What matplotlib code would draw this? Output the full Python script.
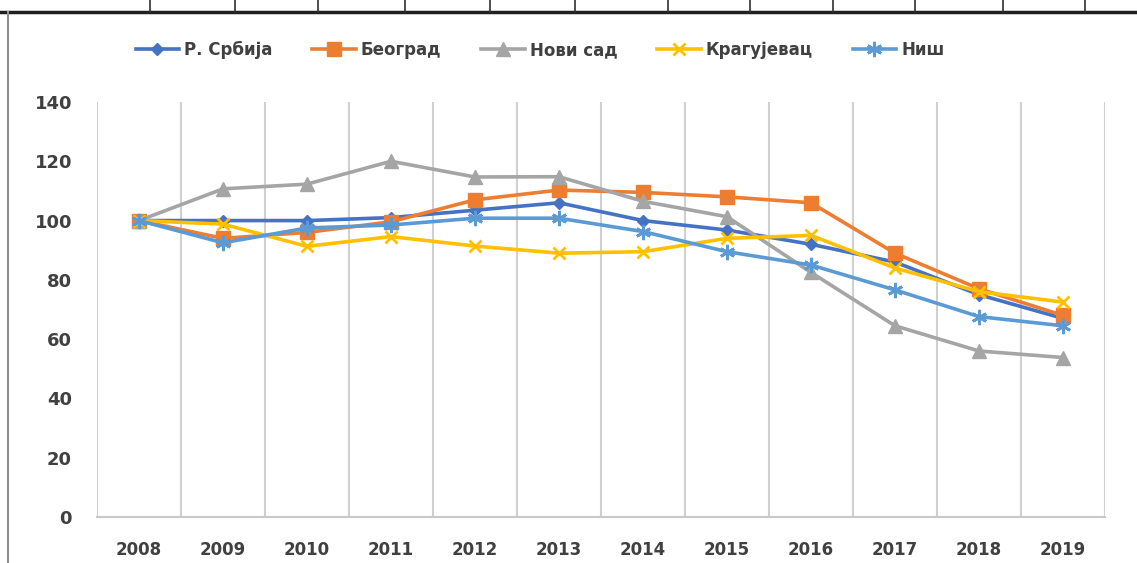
import matplotlib
matplotlib.use("Agg")
import matplotlib.pyplot as plt
from matplotlib.lines import Line2D

years = ["2008", "2009", "2010", "2011", "2012", "2013", "2014", "2015", "2016", "2017", "2018", "2019"]
srbija = [100, 100, 100, 101, 103.5, 106, 100, 96.8, 92, 86, 75, 67]
beograd = [100, 94, 96, 99.6, 107, 110.3, 109.5, 108, 106, 89, 77, 68]
novi_sad = [100, 110.7, 112.3, 120, 114.7, 114.8, 106.5, 101.3, 82.5, 64.5, 56, 53.8]
kragujevac = [100, 98.8, 91.3, 94.6, 91.4, 89, 89.5, 94, 95, 84, 76, 72.5]
nis = [100, 92.5, 97.5, 98.5, 100.8, 100.8, 96.3, 89.5, 85, 76.6, 67.6, 64.5]
series_names = ["Р. Србија", "Београд", "Нови сад", "Крагујевац", "Ниш"]

plt.rcParams['font.family'] = ['DejaVu Sans']

fig = plt.figure(figsize=(11.37, 5.63), dpi=100)
ax = fig.add_axes([97/1137, (563-517)/563, (1105-97)/1137, (517-102)/563])

x = list(range(len(years)))
styles = [
    (srbija, "#4472C4", "D", 6.5),
    (beograd, "#ED7D31", "s", 10),
    (novi_sad, "#A5A5A5", "^", 10),
    (kragujevac, "#FFC000", "x", 9),
    (nis, "#5B9BD5", (6, 2, 0), 11),
]
handles = []
for (vals, col, mk, ms), name in zip(styles, series_names):
    h, = ax.plot(x, vals, color=col, lw=2.6, marker=mk, ms=ms,
                 mfc=col, mec=col,
                 mew=2.0 if mk in ["x", (6, 2, 0)] else 1.0, label=name, zorder=3)
    handles.append(h)

ax.set_xlim(-0.5, 11.5)
ax.set_ylim(0, 140)
ax.set_yticks(range(0, 141, 20))
ax.set_xticks(x)
ax.set_xticklabels(years)
ax.set_xticks([i - 0.5 for i in range(13)], minor=True)
ax.grid(True, which="minor", axis="x", color="#D0D0D0", lw=1.5)
ax.grid(False, which="major")
for s in ["top", "right", "left"]:
    ax.spines[s].set_visible(False)
ax.spines["bottom"].set_color("#C8C8C8")
ax.spines["bottom"].set_linewidth(1.5)
ax.tick_params(axis="both", which="both", length=0)
ax.tick_params(axis="y", pad=18, labelsize=13, labelcolor="#404040")
ax.tick_params(axis="x", pad=17, labelsize=12, labelcolor="#404040")
for lab in ax.get_yticklabels() + ax.get_xticklabels():
    lab.set_fontweight("bold")

leg = fig.legend(handles=handles, loc="center", bbox_to_anchor=(540/1137, 1 - 50/563),
                 ncol=5, frameon=False, fontsize=12, handlelength=2.6,
                 columnspacing=2.4, handletextpad=0.3)
for t in leg.get_texts():
    t.set_color("#404040")
    t.set_fontweight("bold")

# frame remnants: top table strip and left border
fig.add_artist(Line2D([0, 1], [1 - 12/563, 1 - 12/563], color="#202020", lw=2.5, transform=fig.transFigure))
for px in [150, 235, 318, 405, 490, 575, 668, 750, 833, 915, 1003, 1085]:
    fig.add_artist(Line2D([px/1137, px/1137], [1 - 12/563, 1], color="#303030", lw=1.2, transform=fig.transFigure))
fig.add_artist(Line2D([8/1137, 8/1137], [0, 1 - 12/563], color="#909090", lw=1.5, transform=fig.transFigure))

fig.savefig("out.png", dpi=100, facecolor="white")
